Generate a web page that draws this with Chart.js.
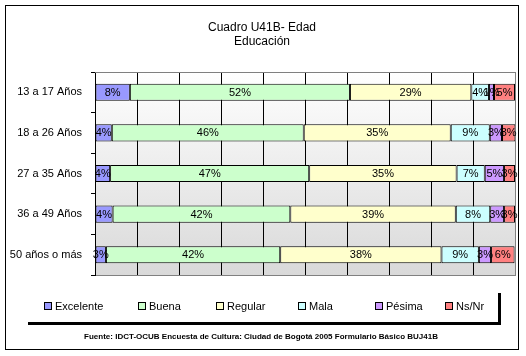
<!DOCTYPE html>
<html>
<head>
<meta charset="utf-8">
<script src="https://cdn.jsdelivr.net/npm/chart.js@4/dist/chart.umd.min.js"></script>
<style>
html,body{margin:0;padding:0;background:#fff;}
#c{display:block;}
</style>
</head>
<body>
<canvas id="c" width="526" height="356"></canvas>
<script>
const categories = ["13 a 17 Años", "18 a 26 Años", "27 a 35 Años", "36 a 49 Años", "50 años o más"];
const seriesNames = ["Excelente", "Buena", "Regular", "Mala", "Pésima", "Ns/Nr"];
const excelente = [8.3, 4.0, 3.6, 4.2, 2.6];
const buena     = [52.4, 45.7, 47.4, 42.3, 41.5];
const regular   = [28.9, 35.0, 35.1, 39.4, 38.4];
const mala      = [4.2, 9.3, 6.7, 8.2, 8.9];
const pesima    = [1.2, 2.9, 4.6, 3.3, 2.9];
const nsnr      = [5.0, 3.2, 2.6, 2.6, 5.6];
const xTicks = [0, 10, 20, 30, 40, 50, 60, 70, 80, 90, 100];
const titleLines = ["Cuadro U41B- Edad", "Educación"];
const footerText = "Fuente: IDCT-OCUB Encuesta de Cultura: Ciudad de Bogotá 2005 Formulario Básico BUJ41B";

const colors = ["#9999FF", "#CCFFCC", "#FFFFCC", "#CCFFFF", "#CC99FF", "#FF8080"];
const seriesValues = [excelente, buena, regular, mala, pesima, nsnr];
const FONT = "'Liberation Sans', Arial, sans-serif";

const datasets = seriesNames.map((name, i) => ({
  label: name,
  data: seriesValues[i],
  backgroundColor: colors[i],
  borderColor: "#000000",
  borderWidth: 1,
  borderSkipped: false,
  barPercentage: 0.42,
  categoryPercentage: 1.0
}));

const decor = {
  id: "decor",
  beforeDraw(chart) {
    const ctx = chart.ctx;
    const a = chart.chartArea;
    ctx.save();
    ctx.fillStyle = "#ffffff";
    ctx.fillRect(0, 0, chart.width, chart.height);
    ctx.strokeStyle = "#000000";
    ctx.lineWidth = 1;
    ctx.strokeRect(5.5, 5.5, 513, 344);
    const g = ctx.createLinearGradient(0, a.top, 0, a.bottom);
    g.addColorStop(0, "#ffffff");
    g.addColorStop(1, "#d9d9d9");
    ctx.fillStyle = g;
    ctx.fillRect(a.left, a.top, a.right - a.left, a.bottom - a.top);
    ctx.restore();
  },
  afterDatasetsDraw(chart) {
    const ctx = chart.ctx;
    const a = chart.chartArea;
    ctx.save();
    ctx.strokeStyle = "#808080";
    ctx.lineWidth = 1;
    ctx.beginPath();
    ctx.moveTo(a.left, Math.round(a.top) + 0.5);
    ctx.lineTo(a.right, Math.round(a.top) + 0.5);
    ctx.stroke();
    ctx.font = "11px " + FONT;
    ctx.fillStyle = "#000000";
    ctx.textAlign = "center";
    ctx.textBaseline = "middle";
    chart.data.datasets.forEach((ds, di) => {
      const meta = chart.getDatasetMeta(di);
      meta.data.forEach((el, i) => {
        const v = ds.data[i];
        const cx = (el.x + el.base) / 2;
        ctx.fillText(Math.round(v) + "%", cx, el.y + 0.5);
      });
    });
    ctx.restore();
  },
  afterDraw(chart) {
    const ctx = chart.ctx;
    ctx.save();
    ctx.fillStyle = "#000000";
    ctx.textAlign = "center";
    ctx.textBaseline = "alphabetic";
    ctx.font = "12px " + FONT;
    ctx.fillText(titleLines[0], 262, 31);
    ctx.fillText(titleLines[1], 262, 45);
    ctx.fillStyle = "#000000";
    ctx.fillRect(28, 322, 473, 3);
    ctx.fillRect(498, 293, 3, 32);
    const boxX = [44, 138, 216, 298, 375, 445];
    ctx.font = "11px " + FONT;
    ctx.textAlign = "left";
    ctx.textBaseline = "middle";
    seriesNames.forEach((name, i) => {
      ctx.fillStyle = colors[i];
      ctx.fillRect(boxX[i] + 0.5, 302.5, 7, 7);
      ctx.strokeStyle = "#000000";
      ctx.lineWidth = 1;
      ctx.strokeRect(boxX[i] + 0.5, 302.5, 7, 7);
      ctx.fillStyle = "#000000";
      ctx.fillText(name, boxX[i] + 11, 306.5);
    });
    ctx.font = "bold 8px " + FONT;
    ctx.textAlign = "center";
    ctx.textBaseline = "middle";
    ctx.fillText(footerText, 261, 337);
    ctx.restore();
  }
};

new Chart(document.getElementById("c"), {
  type: "bar",
  data: { labels: categories, datasets },
  options: {
    indexAxis: "y",
    responsive: false,
    animation: false,
    devicePixelRatio: 1,
    layout: { padding: { left: 0, top: 72, right: 11, bottom: 81 } },
    plugins: { legend: { display: false }, title: { display: false }, tooltip: { enabled: false } },
    scales: {
      x: {
        stacked: true,
        min: 0,
        max: 100,
        afterBuildTicks(scale) { scale.ticks = xTicks.map(v => ({ value: v })); },
        afterFit(scale) { scale.height = 0; },
        ticks: { display: false },
        grid: {
          drawTicks: false,
          color: ctx => (ctx.tick && ctx.tick.value === 100) ? "#808080" : "#000000",
          lineWidth: 1
        },
        border: { display: true, color: "#808080" }
      },
      y: {
        stacked: true,
        afterFit(scale) { scale.width = 95; },
        ticks: { color: "#000000", font: { family: FONT, size: 11 }, padding: 9 },
        grid: { drawOnChartArea: false, drawTicks: true, tickLength: 4, color: "#000000" },
        border: { display: true, color: "#000000" }
      }
    }
  },
  plugins: [decor]
});
</script>
</body>
</html>
